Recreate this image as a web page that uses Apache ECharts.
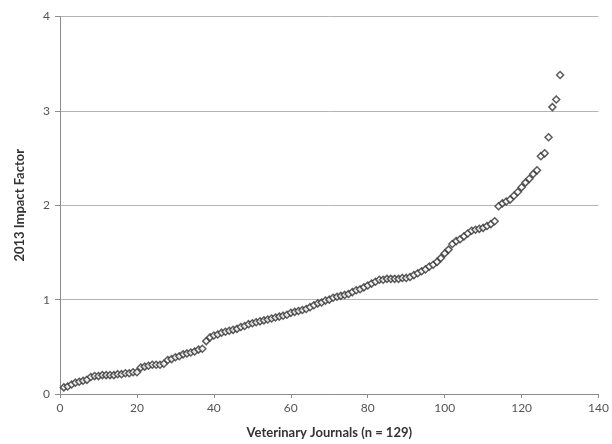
<!DOCTYPE html>
<html><head><meta charset="utf-8">
<script src="https://cdn.jsdelivr.net/npm/echarts@6/dist/echarts.min.js"></script>
<style>html,body{margin:0;padding:0;background:#fff;overflow:hidden}#c{width:612px;height:444px}</style>
</head><body><div id="c"></div>
<script>
var xTitle = "Veterinary Journals (n = 129)";
var yTitle = "2013 Impact Factor";
var impactFactors = [
0.07,0.08,0.10,0.12,0.13,0.14,0.15,0.18,0.19,0.19,
0.20,0.20,0.20,0.20,0.21,0.21,0.22,0.22,0.23,0.23,
0.28,0.29,0.30,0.31,0.31,0.31,0.32,0.36,0.37,0.39,
0.40,0.42,0.43,0.44,0.45,0.47,0.48,0.56,0.60,0.62,
0.63,0.65,0.66,0.67,0.68,0.69,0.71,0.72,0.74,0.75,
0.76,0.77,0.78,0.79,0.80,0.81,0.82,0.83,0.84,0.86,
0.87,0.88,0.89,0.90,0.92,0.94,0.96,0.97,0.99,1.00,
1.02,1.03,1.04,1.05,1.06,1.08,1.10,1.11,1.13,1.15,
1.17,1.19,1.21,1.21,1.22,1.22,1.22,1.22,1.23,1.23,
1.24,1.26,1.28,1.30,1.32,1.35,1.37,1.40,1.44,1.49,
1.53,1.59,1.62,1.64,1.67,1.70,1.73,1.74,1.75,1.76,
1.78,1.80,1.83,1.99,2.02,2.04,2.06,2.10,2.14,2.19,
2.24,2.28,2.33,2.37,2.52,2.55,2.72,3.04,3.12,3.38
];
var ranks = impactFactors.map(function(v,i){return i+1;});
var points = impactFactors.map(function(v,i){return [ranks[i], v];});

var chart = echarts.init(document.getElementById('c'), null, {renderer:'canvas'});
var font = 'Lato, "Open Sans", sans-serif';
chart.setOption({
  animation:false,
  grid:{left:60,right:9,top:16.5,bottom:46.5,containLabel:false},
  xAxis:{type:'value',min:0,max:140,interval:20,
    name:xTitle,nameLocation:'middle',nameGap:32,
    nameTextStyle:{fontFamily:font,fontWeight:'bold',fontSize:13,color:'#333'},
    axisLine:{show:true,lineStyle:{color:'#8c8c8c'}},
    axisTick:{show:true,length:4,lineStyle:{color:'#8c8c8c'}},
    axisLabel:{fontFamily:font,fontSize:12,color:'#555',margin:8},
    splitLine:{show:false}},
  yAxis:{type:'value',min:0,max:4,interval:1,
    name:yTitle,nameLocation:'middle',nameGap:34,nameRotate:90,
    nameTextStyle:{fontFamily:font,fontWeight:'bold',fontSize:13,color:'#333'},
    axisLine:{show:true,lineStyle:{color:'#8c8c8c'}},
    axisTick:{show:true,length:5,lineStyle:{color:'#8c8c8c'}},
    axisLabel:{fontFamily:font,fontSize:12,color:'#555',margin:10},
    splitLine:{show:true,lineStyle:{color:'#b4b4b4',width:1}}},
  series:[{type:'scatter',data:points,symbol:'diamond',symbolSize:7,
    itemStyle:{color:'#ffffff',borderColor:'#333333',borderWidth:1.5}}]
});
</script></body></html>
